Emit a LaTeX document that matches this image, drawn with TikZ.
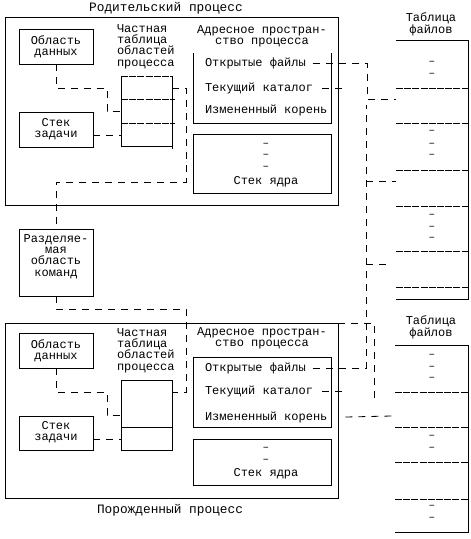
\documentclass[tikz,border=0pt]{standalone}
\usepackage{fontspec}
\newfontfamily\mono{Liberation Mono}
\begin{document}
\begin{tikzpicture}[x=1pt,y=-1pt,
  every node/.style={inner sep=0pt, outer sep=0pt},
  txt/.style={font=\mono\fontsize{12}{11.3}\selectfont},
  ttl/.style={font=\mono\fontsize{12.8}{12}\selectfont},
  small/.style={font=\mono\fontsize{12}{11}\selectfont},
  box/.style={draw, line width=0.8pt},
  frame/.style={draw, line width=0.9pt},
  conn/.style={line width=0.8pt, dash pattern=on 7pt off 6pt},
  tabline/.style={line width=0.8pt, dash pattern=on 7pt off 1.2pt},
  solidline/.style={line width=0.8pt},
  dashmark/.style={font=\mono\fontsize{11}{11}\selectfont, text height=1.5pt, text depth=0pt}]
\useasboundingbox (0,0) rectangle (471,539);

% ---------------- parent process ----------------
\node[ttl] (ptitle) at (166,8) {Родительский процесс};
\node[frame, minimum width=333pt, minimum height=188pt] (parent) at (171.5,111) {};

\node[box, minimum width=74pt, minimum height=35pt] (pdata) at (56,46.5) {};
\node[txt, align=center] (pdatat) at (56,47) {Область\\данных};
\node[box, minimum width=74pt, minimum height=35pt] (pstack) at (56,129.5) {};
\node[txt, align=center] (pstackt) at (56,129) {Стек\\задачи};

\node[txt, align=left, anchor=west] (ptlabel) at (117,46.5) {Частная\\таблица\\областей\\процесса};
\node[minimum width=51pt, minimum height=70pt] (ptable) at (146.5,111) {};
\draw[tabline] (121,76) -- (172,76);
\draw[solidline] (121,76) -- (121,146) -- (172,146);
\draw[solidline] (172,76) -- (172,149);
\draw[tabline] (121,99) -- (175,99);
\draw[tabline] (121,123) -- (175,123);

\node[txt, align=center] (palabel) at (262,36.5) {Адресное простран-\\ство процесса};
\draw[solidline] (193,53) -- (193,123) -- (331,123) -- (331,53);
\node[txt, anchor=west] (pof) at (205,63) {Открытые файлы};
\node[txt, anchor=west] (ptc) at (205,88) {Текущий каталог};
\node[txt, anchor=west] (pik) at (205,110) {Измененный корень};

\node[box, minimum width=138pt, minimum height=59pt] (pkern) at (262,163.5) {};
\node[dashmark] (pk1) at (266,146) {–};
\node[dashmark] (pk2) at (266,157) {–};
\node[dashmark] (pk3) at (266,169) {–};
\node[txt] (pkt) at (266,182) {Стек ядра};

% ---------------- shared text ----------------
\node[box, minimum width=74pt, minimum height=67pt] (shared) at (56,262.5) {};
\node[txt, align=center] (sharedt) at (56,256.5) {Разделяе-\\мая\\область\\команд};

% ---------------- child process ----------------
\node[frame, minimum width=333pt, minimum height=175pt] (child) at (171.5,410.5) {};
\node[ttl] (ctitle) at (170,510) {Порожденный процесс};

\node[box, minimum width=74pt, minimum height=35pt] (cdata) at (56,350.5) {};
\node[txt, align=center] (cdatat) at (56,351) {Область\\данных};
\node[box, minimum width=74pt, minimum height=34pt] (cstack) at (56,433) {};
\node[txt, align=center] (cstackt) at (56,432.5) {Стек\\задачи};

\node[txt, align=left, anchor=west] (ctlabel) at (117,350.5) {Частная\\таблица\\областей\\процесса};
\node[box, minimum width=51pt, minimum height=70pt] (ctable) at (146.5,415) {};
\draw[solidline] (121,427) -- (172,427);

\node[txt, align=center] (calabel) at (262,338) {Адресное простран-\\ство процесса};
\node[box, minimum width=138pt, minimum height=70pt] (caddr) at (262,392) {};
\node[txt, anchor=west] (cof) at (205,368) {Открытые файлы};
\node[txt, anchor=west] (ctc) at (205,391) {Текущий каталог};
\node[txt, anchor=west] (cik) at (205,417) {Измененный корень};

\node[box, minimum width=138pt, minimum height=46pt] (ckern) at (262,462) {};
\node[dashmark] (ck1) at (266,450) {–};
\node[dashmark] (ck2) at (266,462) {–};
\node[txt] (ckt) at (266,474) {Стек ядра};

% ---------------- file tables ----------------
\node[small, align=center] (ftl1) at (431,24) {Таблица\\файлов};
\draw[solidline] (396,40) -- (468,40) -- (468,299) -- (396,299);
\foreach \yy in {88,123,170,206,251,287} \draw[tabline] (396,\yy) -- (468,\yy);
\foreach \yy [count=\i] in {64,76,133,146,157,217,229,240} \node[dashmark] (fa\i) at (432,\yy) {–};

\node[small, align=center] (ftl2) at (431,327.5) {Таблица\\файлов};
\draw[solidline] (395,345) -- (468,345) -- (468,532) -- (395,532);
\foreach \yy in {392,427,462,499} \draw[tabline] (395,\yy) -- (468,\yy);
\foreach \yy [count=\i] in {357,369,380,438,450,508,520} \node[dashmark] (fb\i) at (432,\yy) {–};

\coordinate (ft1) at (396,99);
\coordinate (ft2) at (396,181);
\coordinate (ft3) at (392,264);
\coordinate (ft4) at (392,416);
\coordinate (ptcend) at (346,88);
\coordinate (ctcend) at (346,391);
\coordinate (cornerend) at (374,403);

% ---------------- connectors ----------------
\draw[conn] (pdata.south) |- (107,88) |- (ptable.west);
\path ([yshift=-5.5pt]pstack.east) coordinate (ps1);
\draw[conn] (ps1) -- (ptable.west |- ps1);
\draw[conn] ([yshift=-12pt]ptable.north east) -| (186,182) -| (shared.north);
\draw[conn] (shared.south) |- (186,309) |- ([yshift=-12pt]ctable.north east);
\draw[conn] (cdata.south) |- (107,392) |- (ctable.west);
\path ([yshift=-6pt]cstack.east) coordinate (cs1);
\draw[conn] (cs1) -- (ctable.west |- cs1);

\draw[conn] ([xshift=7pt]pof.east) -| (367,99) -- (ft1);
\draw[conn] ([xshift=9pt]ptc.east) -- (ptcend);
\draw[conn] ([xshift=7pt]cof.east) -| (366,105);
\draw[conn] (366,181) -- (ft2);
\draw[conn] (366,264) -- (ft3);
\draw[conn] ([xshift=9pt]ctc.east) -- (ctcend);
\draw[conn] ([xshift=18pt]cik.east) -- (ft4);
\draw[conn] (child.north east) -| (cornerend);
\end{tikzpicture}
\end{document}
